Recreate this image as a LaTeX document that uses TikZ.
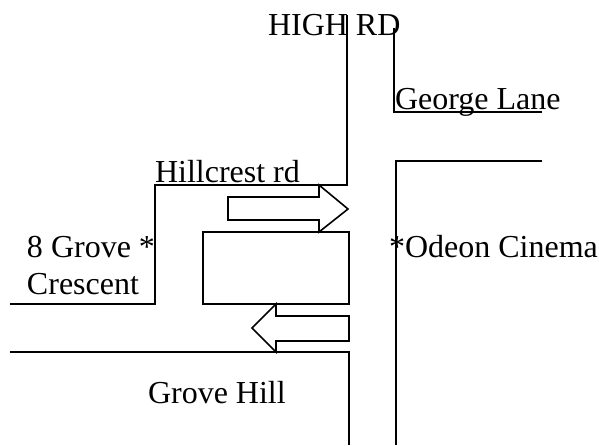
\documentclass[tikz,border=0pt]{standalone}
\usepackage{fontspec}
\setmainfont{Liberation Serif}
\begin{document}
\begin{tikzpicture}[x=1pt,y=-1pt,
  road/.style={line width=1.6pt,line join=miter},
  lbl/.style={anchor=base west,inner sep=0pt,outer sep=0pt,font=\fontsize{32}{36}\selectfont}]
\useasboundingbox (0,0) rectangle (599,445);
% labels
\node[lbl] (high) at (268,35) {HIGH RD};
\node[lbl] (george) at (395,109) {George Lane};
\node[lbl] (hill) at (155,182) {Hillcrest rd};
\node[lbl] (grove8) at (27,257) {8 Grove *};
\node[lbl] (cresc) at (27,294) {Crescent};
\node[lbl] (odeon) at (389,257) {*Odeon Cinema};
\node[lbl] (gh) at (148,403) {Grove Hill};
% roads
\draw[road] (347,15) -- (347,185) -- (155,185) -- (155,304) -- (10,304);
\draw[road] (394,28) -- (394,112) -- (542,112);
\draw[road] (542,161) -- (396,161) -- (396,445);
\draw[road] (10,352) -- (349,352) -- (349,445);
% block
\draw[road] (203,232) rectangle (349,304);
% right arrow
\draw[road] (228,197) -- (319,197) -- (319,185) -- (348,209) -- (319,232) -- (319,220) -- (228,220) -- cycle;
% left arrow
\draw[road] (349,316) -- (276,316) -- (276,304) -- (252,328) -- (276,352) -- (276,341) -- (349,341) -- cycle;
\end{tikzpicture}
\end{document}
